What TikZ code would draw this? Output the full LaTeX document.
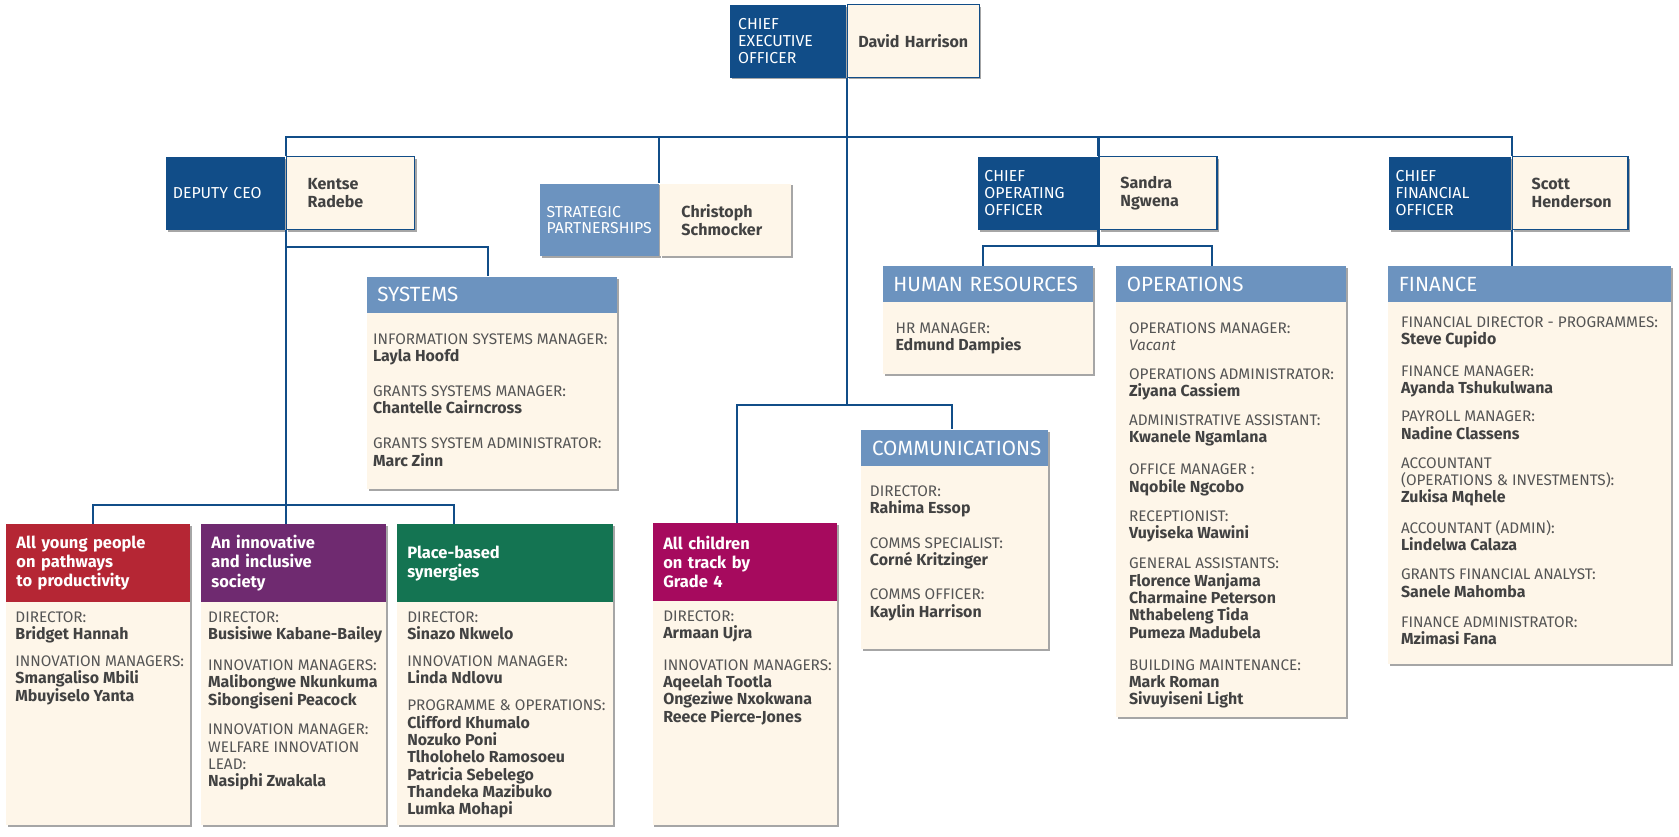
\documentclass[tikz,border=0pt]{standalone}
\usepackage{fontspec}
\setmainfont{Fira Sans}
\usetikzlibrary{positioning,shadows}

\definecolor{navy}{RGB}{17,77,136}
\definecolor{steel}{RGB}{108,147,191}
\definecolor{cream}{RGB}{254,246,233}
\definecolor{youthred}{RGB}{181,38,52}
\definecolor{socpurple}{RGB}{111,42,112}
\definecolor{placegreen}{RGB}{20,116,82}
\definecolor{kidsmagenta}{RGB}{166,10,94}
\definecolor{labelgray}{RGB}{85,85,85}
\definecolor{namegray}{RGB}{66,66,66}

\hyphenpenalty=10000
\exhyphenpenalty=10000

\newcommand{\pname}[1]{{\fontsize{7.45}{8.1}\selectfont\bfseries\color{namegray}#1}}

\tikzset{
  link/.style={draw=navy, line width=1pt},
  boxshadow/.style={drop shadow={shadow xshift=0.9pt, shadow yshift=-0.9pt, opacity=0.35, fill=black}},
  rolebox/.style={anchor=north west, fill=navy, text=white, minimum height=34pt, inner xsep=3pt, inner ysep=0pt, align=left, font=\fontsize{7.4}{7.8}\selectfont, boxshadow},
  namebox/.style={fill=cream, draw=navy, line width=0.6pt, text=namegray, minimum height=34pt, inner xsep=10pt, inner ysep=0pt, align=left, font=\fontsize{7.5}{8.25}\selectfont\bfseries, boxshadow},
  unithead/.style={anchor=north west, fill=steel, text=white, minimum height=17pt, inner xsep=5pt, inner ysep=0pt, align=left, font=\fontsize{9.6}{11}\selectfont, boxshadow},
  unitbody/.style={anchor=north west, fill=cream, inner sep=0pt, boxshadow},
  goalhead/.style={anchor=north west, text=white, minimum height=36.5pt, inner xsep=5pt, inner ysep=0pt, align=left, font=\fontsize{7.7}{8.9}\selectfont\bfseries, boxshadow},
  staff/.style={anchor=north west, inner sep=0pt, align=left, text=labelgray, font=\fontsize{7.15}{8.1}\selectfont},
}

\begin{document}
\begin{tikzpicture}[x=0.5pt, y=-0.5pt]
\fill[white] (0,0) rectangle (1568,781);
\useasboundingbox (0,0) rectangle (1568,781);

\node[rolebox, text width=46.5pt, inner xsep=4pt] (ceoR) at (681,4) {CHIEF\\EXECUTIVE\\OFFICER};
\node[namebox, right=0pt of ceoR, text width=53.5pt, inner xsep=4pt, align=center] (ceoN) {David Harrison};

\node[rolebox, text width=49.5pt] (depR) at (155,146) {DEPUTY CEO};
\node[namebox, right=0pt of depR, text width=40pt] (depN) {Kentse\\Radebe};

\node[rolebox, fill=steel, text width=49.5pt] (stratR) at (504,171) {STRATEGIC\\PARTNERSHIPS};
\node[namebox, draw=none, right=0pt of stratR, text width=41pt] (stratN) {Christoph\\Schmocker};

\node[rolebox, text width=50pt] (cooR) at (913,146) {CHIEF\\OPERATING\\OFFICER};
\node[namebox, right=0pt of cooR, text width=35pt] (cooN) {Sandra\\Ngwena};

\node[rolebox, text width=51pt] (cfoR) at (1297,146) {CHIEF\\FINANCIAL\\OFFICER};
\node[namebox, right=0pt of cfoR, text width=36pt, inner xsep=9pt] (cfoN) {Scott\\Henderson};

\node[unithead, text width=107pt] (sysH) at (342,258) {SYSTEMS};
\node[unitbody, minimum width=117pt, minimum height=82pt] (sysB) at (342,292) {};
\node[staff] (sysT) at (348,311) {INFORMATION SYSTEMS MANAGER:\\\pname{Layla Hoofd}\\[8.2pt]
  GRANTS SYSTEMS MANAGER:\\\pname{Chantelle Cairncross}\\[8.2pt]
  GRANTS SYSTEM ADMINISTRATOR:\\\pname{Marc Zinn}};

\node[unithead, text width=88pt] (hrH) at (824,248) {HUMAN RESOURCES};
\node[unitbody, minimum width=98pt, minimum height=33.5pt] (hrB) at (824,282) {};
\node[staff] (hrT) at (836,301) {HR MANAGER:\\\pname{Edmund Dampies}};

\node[unithead, text width=97.5pt] (opsH) at (1042,248) {OPERATIONS};
\node[unitbody, minimum width=107.5pt, minimum height=193.5pt] (opsB) at (1042,282) {};
\node[staff] (opsT) at (1054,301) {OPERATIONS MANAGER:\\\textit{Vacant}\\[5.3pt]
  OPERATIONS ADMINISTRATOR:\\\pname{Ziyana Cassiem}\\[5.3pt]
  ADMINISTRATIVE ASSISTANT:\\\pname{Kwanele Ngamlana}\\[6.8pt]
  OFFICE MANAGER :\\\pname{Nqobile Ngcobo}\\[5.5pt]
  RECEPTIONIST:\\\pname{Vuyiseka Wawini}\\[6pt]
  GENERAL ASSISTANTS:\\\pname{Florence Wanjama}\\\pname{Charmaine Peterson}\\\pname{Nthabeleng Tida}\\\pname{Pumeza Madubela}\\[6.8pt]
  BUILDING MAINTENANCE:\\\pname{Mark Roman}\\\pname{Sivuyiseni Light}};

\node[unithead, text width=77pt] (comH) at (804,401) {COMMUNICATIONS};
\node[unitbody, minimum width=87pt, minimum height=85.5pt] (comB) at (804,435) {};
\node[staff] (comT) at (812,453) {DIRECTOR:\\\pname{Rahima Essop}\\[8pt]
  COMMS SPECIALIST:\\\pname{Corné Kritzinger}\\[8pt]
  COMMS OFFICER:\\\pname{Kaylin Harrison}};

\node[unithead, text width=122pt] (finH) at (1296,248) {FINANCE};
\node[unitbody, minimum width=132pt, minimum height=169pt] (finB) at (1296,282) {};
\node[staff] (finT) at (1308,295) {FINANCIAL DIRECTOR - PROGRAMMES:\\\pname{Steve Cupido}\\[6.7pt]
  FINANCE MANAGER:\\\pname{Ayanda Tshukulwana}\\[5.2pt]
  PAYROLL MANAGER:\\\pname{Nadine Classens}\\[5.4pt]
  ACCOUNTANT\\(OPERATIONS \& INVESTMENTS):\\\pname{Zukisa Mqhele}\\[6pt]
  ACCOUNTANT (ADMIN):\\\pname{Lindelwa Calaza}\\[5.7pt]
  GRANTS FINANCIAL ANALYST:\\\pname{Sanele Mahomba}\\[6pt]
  FINANCE ADMINISTRATOR:\\\pname{Mzimasi Fana}};

\node[goalhead, fill=youthred, text width=76pt] (youthH) at (5,489) {All young people\\on pathways\\to productivity};
\node[unitbody, minimum width=86pt, minimum height=104pt] (youthB) at (5,562) {};
\node[staff] (youthT) at (14,571) {DIRECTOR:\\\pname{Bridget Hannah}\\[4.3pt]
  INNOVATION MANAGERS:\\\pname{Smangaliso Mbili}\\\pname{Mbuyiselo Yanta}};

\node[goalhead, fill=socpurple, text width=76.5pt] (socH) at (187,489) {An innovative\\and inclusive\\society};
\node[unitbody, minimum width=86.5pt, minimum height=104pt] (socB) at (187,562) {};
\node[staff] (socT) at (194,571) {DIRECTOR:\\\pname{Busisiwe Kabane-Bailey}\\[6.2pt]
  INNOVATION MANAGERS:\\\pname{Malibongwe Nkunkuma}\\\pname{Sibongiseni Peacock}\\[5.7pt]
  INNOVATION MANAGER:\\WELFARE INNOVATION\\LEAD:\\\pname{Nasiphi Zwakala}};

\node[goalhead, fill=placegreen, text width=91pt] (placeH) at (370,489) {Place-based\\synergies};
\node[unitbody, minimum width=101pt, minimum height=104pt] (placeB) at (370,562) {};
\node[staff] (placeT) at (380,571) {DIRECTOR:\\\pname{Sinazo Nkwelo}\\[4.3pt]
  INNOVATION MANAGER:\\\pname{Linda Ndlovu}\\[4.5pt]
  PROGRAMME \& OPERATIONS:\\\pname{Clifford Khumalo}\\\pname{Nozuko Poni}\\\pname{Tlholohelo Ramosoeu}\\\pname{Patricia Sebelego}\\\pname{Thandeka Mazibuko}\\\pname{Lumka Mohapi}};

\node[goalhead, fill=kidsmagenta, text width=76pt] (kidsH) at (609,488) {All children\\on track by\\Grade 4};
\node[unitbody, minimum width=86pt, minimum height=104.5pt] (kidsB) at (609,561) {};
\node[staff] (kidsT) at (619,570) {DIRECTOR:\\\pname{Armaan Ujra}\\[6.5pt]
  INNOVATION MANAGERS:\\\pname{Aqeelah Tootla}\\\pname{Ongeziwe Nxokwana}\\\pname{Reece Pierce-Jones}};

\coordinate (youthIn) at (87,489);
\coordinate (placeIn) at (424,489);
\coordinate (sysIn) at (456,258);
\coordinate (kidsIn) at (688,488);
\coordinate (comIn) at (889,401);
\coordinate (hrIn) at (918,248);
\coordinate (opsIn) at (1132,248);

\draw[link] (depN.north west) -- ++(0,-18) -| (cfoN.north west);
\draw[link] (stratN.north west) -- ++(0,-43);
\draw[link] (cooN.north west) -- ++(0,-18);
\draw[link] (ceoN.south west) -- ++(0,305);
\draw[link] (kidsIn) -- ++(0,-110) -| (comIn);
\draw[link] (depN.south west) -- (depN.south west |- socH.north);
\draw[link] (youthIn) -- ++(0,-17) -| (placeIn);
\draw[link] ([yshift=-8pt]depN.south west) -| (sysIn);
\draw[link] (cooN.south west) -- ++(0,16);
\draw[link] (hrIn) -- ++(0,-18) -| (opsIn);
\draw[link] (cfoN.south west) -- (cfoN.south west |- finH.north);
\end{tikzpicture}
\end{document}
